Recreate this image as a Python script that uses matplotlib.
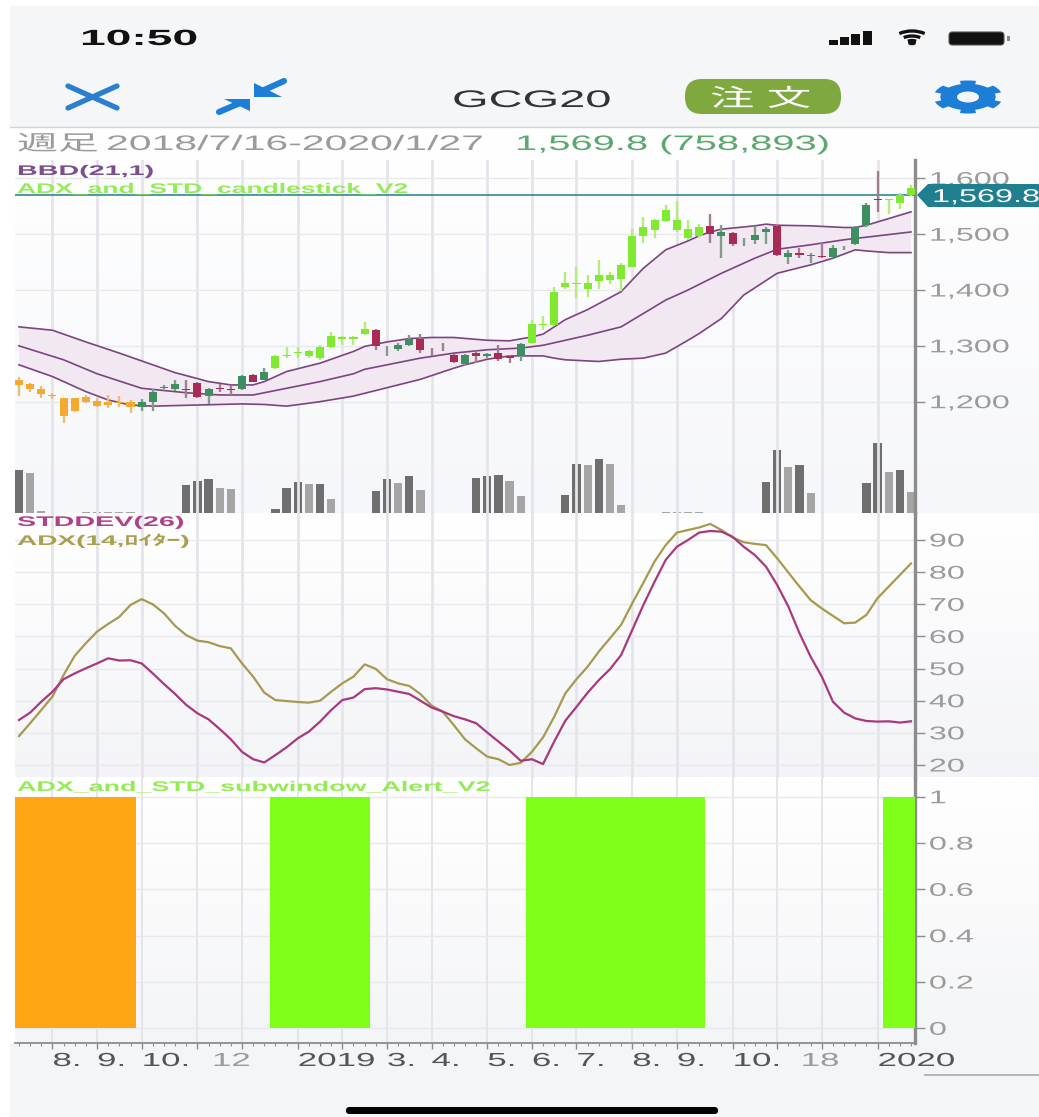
import numpy as np
import matplotlib
matplotlib.use("Agg")
from matplotlib import pyplot as plt
from matplotlib import patheffects as pe
from matplotlib.colors import to_rgb
from matplotlib.patches import Arc, Ellipse, FancyBboxPatch, Polygon, Rectangle
from matplotlib.transforms import Affine2D

W, H = 1039, 1117
plt.rcParams["font.family"] = ["Liberation Sans", "Noto Sans CJK JP"]

# weekly candles, 2018/7/16 - 2020/1/27
CANDLE_TOP = [1239, 1231, 1222, 1212, 1206, 1206, 1209, 1202, 1199, 1200, 1200, 1200, 1218, 1226, 1231, 1223, 1233,
              1223, 1225, 1223, 1246, 1248, 1254, 1282, 1284, 1289, 1290, 1298, 1318, 1315, 1315, 1330, 1328, 1297,
              1301, 1312, 1313, 1291, 1291, 1284, 1284, 1288, 1286, 1287, 1282, 1304, 1340, 1340, 1396, 1413, 1412,
              1412, 1427, 1427, 1445, 1497, 1512, 1525, 1543, 1525, 1509, 1512, 1515, 1504, 1503, 1488, 1499, 1510,
              1515, 1467, 1467, 1463, 1461, 1475, 1476, 1512, 1552, 1563, 1563, 1570, 1582]
CANDLE_BOTTOM = [1230, 1222, 1214, 1210, 1175, 1184, 1199, 1192, 1194, 1197, 1190, 1190, 1200, 1224, 1223, 1221, 1208,
                 1210, 1223, 1221, 1222, 1236, 1239, 1260, 1282, 1287, 1282, 1279, 1298, 1313, 1313, 1321, 1300, 1296,
                 1294, 1301, 1293, 1290, 1290, 1271, 1267, 1281, 1282, 1276, 1279, 1281, 1306, 1337, 1337, 1406, 1410,
                 1401, 1417, 1418, 1419, 1441, 1496, 1507, 1524, 1507, 1493, 1497, 1500, 1496, 1482, 1487, 1490, 1504,
                 1463, 1460, 1463, 1461, 1460, 1460, 1475, 1482, 1516, 1561, 1561, 1556, 1570]
CANDLE_HIGH = [1245, 1233, 1228, 1216, 1206, 1206, 1212, 1206, 1212, 1210, 1203, 1204, 1222, 1229, 1238, 1238, 1236,
               1224, 1231, 1228, 1248, 1250, 1260, 1284, 1298, 1298, 1293, 1301, 1324, 1318, 1317, 1343, 1330, 1299,
               1306, 1319, 1322, 1296, 1306, 1285, 1285, 1290, 1288, 1301, 1284, 1306, 1346, 1354, 1405, 1433, 1441,
               1427, 1454, 1433, 1448, 1510, 1531, 1528, 1552, 1560, 1525, 1519, 1536, 1516, 1504, 1494, 1515, 1512,
               1516, 1472, 1475, 1466, 1484, 1481, 1479, 1515, 1555, 1614, 1563, 1573, 1588]
CANDLE_LOW = [1210, 1218, 1206, 1204, 1161, 1182, 1197, 1190, 1188, 1190, 1179, 1184, 1184, 1222, 1220, 1206, 1206,
              1196, 1218, 1212, 1221, 1235, 1238, 1258, 1279, 1279, 1279, 1275, 1297, 1301, 1301, 1319, 1293, 1281,
              1291, 1299, 1287, 1281, 1290, 1270, 1264, 1269, 1279, 1273, 1269, 1273, 1304, 1328, 1336, 1401, 1385,
              1388, 1401, 1411, 1399, 1441, 1484, 1493, 1521, 1504, 1490, 1493, 1485, 1458, 1479, 1478, 1482, 1482,
              1461, 1446, 1457, 1449, 1457, 1459, 1472, 1481, 1513, 1540, 1537, 1546, 1569]
# O orange, G green, M maroon, L lime
CANDLE_KIND = "OOOOOOOOOOOGGGGMMGMMGMGLLLLLLLLLMGGGMMMMGMGMMGLLLLLLLLLLLLLLLLMGMGGGMGMGMGGGGMLLL"
LAST_PRICE = 1569.8

UPPER_WEEK = [0, 3, 6, 9, 11, 14, 17, 19, 21, 22, 24, 27, 30, 31, 33, 35, 37, 39, 42, 44, 46, 47, 49, 51, 54, 56, 58,
              60, 61, 62, 63, 66, 67, 68, 71, 74, 75, 76, 78, 80]
UPPER_BAND = [1334, 1328, 1307, 1287, 1273, 1252, 1236, 1230, 1230, 1236, 1254, 1269, 1290, 1299, 1307, 1313, 1315,
              1315, 1310, 1309, 1316, 1321, 1347, 1365, 1397, 1439, 1472, 1488, 1497, 1504, 1509, 1515, 1518, 1516,
              1515, 1512, 1512, 1516, 1528, 1540]
MID_WEEK = [0, 4, 7, 11, 15, 18, 21, 24, 27, 30, 31, 33, 36, 39, 42, 45, 47, 51, 54, 56, 58, 60, 63, 66, 68, 71, 74,
            77, 80]
MID_BAND = [1300, 1275, 1250, 1224, 1216, 1212, 1212, 1224, 1236, 1250, 1258, 1266, 1278, 1287, 1293, 1296, 1301, 1319,
            1334, 1358, 1382, 1400, 1430, 1457, 1473, 1481, 1490, 1497, 1504]
LOWER_WEEK = [0, 3, 6, 8, 10, 12, 16, 20, 22, 24, 27, 30, 32, 36, 39, 40, 42, 44, 47, 48, 49, 52, 54, 56, 58, 60, 61,
              63, 65, 68, 71, 73, 75, 76, 78, 80]
LOWER_BAND = [1266, 1245, 1218, 1203, 1194, 1192, 1194, 1196, 1195, 1192, 1200, 1210, 1220, 1240, 1260, 1266, 1276,
              1282, 1282, 1278, 1275, 1272, 1276, 1278, 1287, 1310, 1322, 1349, 1391, 1430, 1445, 1457, 1472, 1470,
              1467, 1467]

# volume in thousands, D dark / L light bar
VOL_WEEK = [0, 1, 2, 6, 7, 8, 9, 10, 15, 16, 17, 18, 19, 23, 24, 25, 26, 27, 28, 32, 33, 34, 35, 36, 41, 42, 43, 44, 45,
            49, 50, 51, 52, 53, 54, 58, 59, 60, 61, 67, 68, 69, 70, 71, 76, 77, 78, 79, 80]
VOLUME = [1591, 1469, 61, 24, 24, 24, 24, 24, 1040, 1187, 1248, 930, 893, 159, 906, 1138, 1077, 1077, 514, 808, 1236,
          1114, 1371, 832, 1285, 1359, 1408, 1175, 624, 649, 1787, 1750, 1971, 1787, 306, 24, 37, 24, 24, 1138, 2326,
          1689, 1750, 747, 1114, 2570, 1506, 1567, 759]
VOL_SHADE = "DLLLLLLLDDDLLDDDLDLDDLDLDDDLLDDLDLLLLLLDDLDLDDLDL"

STDDEV = [34, 36.3, 39.7, 42.8, 46.7, 48.5, 50.1, 51.6, 53.2, 52.5, 52.6, 51.6, 48.5, 45.2, 42.1, 38.7, 36.1, 34.2,
          31.2, 28, 24.1, 21.8, 20.8, 23.1, 25.5, 28.3, 30.4, 33.5, 37.1, 40.2, 41, 43.6, 43.9, 43.5, 42.8, 42.1, 40,
          37.9, 36.6, 35.2, 34.2, 33, 30.1, 27.3, 24.5, 21.3, 21.8, 20.3, 27.3, 33.8, 38.1, 42.5, 46.4, 49.8, 54.2, 62,
          69.8, 77, 83.8, 87.9, 90, 92.3, 92.8, 92.6, 91, 87.9, 85.3, 81.7, 76, 69.3, 61, 53.7, 47.5, 39.7, 36.3, 34.5,
          33.7, 33.5, 33.6, 33.2, 33.6]
ADX = [29, 33, 37.1, 41.3, 48, 54, 57.9, 61.5, 63.9, 66.1, 69.8, 71.6, 70, 67.2, 63.3, 60.4, 58.7, 58.2, 57, 56.3, 51.6,
       47.5, 42.5, 40.2, 39.9, 39.6, 39.4, 40, 42.8, 45.4, 47.5, 51.3, 49.9, 46.7, 45.4, 44.6, 42.1, 38.5, 36.6, 32.4,
       28, 25.2, 22.6, 21.8, 20, 20.7, 24.1, 28.6, 35, 42.3, 46.7, 50.6, 55.3, 59.4, 63.6, 70.3, 76.7, 83.3, 88.4, 92.3,
       93.1, 93.9, 95, 93.1, 90.8, 89.3, 88.8, 88.4, 84.3, 79.9, 75.5, 71.3, 68.7, 66.4, 64.1, 64.3, 66.7, 71.9, 75.5,
       79.1, 82.7]

GRID_WEEKS = [3, 7, 11, 16, 20, 25, 29, 33, 37, 42, 46, 50, 55, 59, 64, 68, 72, 77]
DATE_WEEKS = [3, 7, 11, 17.3, 25, 33, 37, 42, 46, 50, 55, 59, 64, 70.1, 77]
DATE_LABELS = ["8.", "9.", "10.", "12", "2019", "3.", "4.", "5.", "6.", "7.", "8.", "9.", "10.", "18", "2020"]
PRICE_TICKS = [1200, 1300, 1400, 1500, 1600]
PRICE_LABELS = ["1,200", "1,300", "1,400", "1,500", "1,600"]
OSC_TICKS = [20, 30, 40, 50, 60, 70, 80, 90]
ALERT_TICKS = [0, 0.2, 0.4, 0.6, 0.8, 1]
ALERT_LABELS = ["0", "0.2", "0.4", "0.6", "0.8", "1"]

BODY = {"O": "#f5a92e", "G": "#3d8f5f", "M": "#a92a55", "L": "#80ea30"}
WICK = {"O": "#e9bd7c", "G": "#7f9c8c", "M": "#a08090", "L": "#b4ec80"}
ALERT_COLOR = {"O": "#ffa413", "L": "#7fff17"}
BLUE = "#1c7ed6"
TEAL = "#1f7f8f"
GREY = "#9b9b9b"


# the screenshot is stretched sideways, so stretch the glyphs the same way
class Wide(pe.AbstractPathEffect):
    def __init__(self, sx=1.85):
        super().__init__()
        self.sx = sx

    def draw_path(self, renderer, gc, tpath, affine, rgbFace=None):
        x0 = affine.get_matrix()[0, 2]
        wide = affine + Affine2D().translate(-x0, 0).scale(self.sx, 1).translate(x0, 0)
        renderer.draw_path(gc, tpath, wide, rgbFace)


fig = plt.figure(figsize=(W / 100, H / 100), dpi=100, facecolor="white")

# backdrop
bg = fig.add_axes([0, 0, 1, 1], zorder=0)
bg.set_xlim(0, W)
bg.set_ylim(H, 0)
bg.axis("off")
bg.add_patch(Rectangle((10, 6), W, 121, color="#f5f6f8", lw=0))
bg.add_patch(Rectangle((10, 1043), W, H, color="#f4f5f7", lw=0))
bg.plot([10, W], [127, 127], color="#d2d2d4", lw=1)
for top, bottom, low in [(128, 513, "#f6f7fa"), (513, 777, "#f3f4f7"), (778, 1043, "#f4f5f7")]:
    grad = np.linspace(to_rgb("white"), to_rgb(low), 64)[:, None, :]
    bg.imshow(grad, extent=(15, W, bottom, top), aspect="auto", interpolation="bilinear")
bg.set_xlim(0, W)
bg.set_ylim(H, 0)


def panel(top, bottom, ylim, z=2):
    ax = fig.add_axes([15 / W, 1 - bottom / H, 900 / W, (bottom - top) / H], zorder=z)
    ax.set_facecolor("none")
    ax.set_xlim(-0.359, 80.36)
    ax.set_ylim(*ylim)
    for side in ["top", "left", "bottom"]:
        ax.spines[side].set_visible(False)
    ax.spines["right"].set_color("#8c8c8c")
    ax.spines["right"].set_linewidth(2.4)
    ax.yaxis.tick_right()
    ax.tick_params(axis="y", length=7, width=1, color="#8c8c8c", pad=3, labelcolor=GREY)
    ax.set_xticks(GRID_WEEKS)
    ax.tick_params(axis="x", length=0, labelbottom=False)
    ax.grid(axis="y", color="#e9e9ed", lw=1)
    ax.grid(axis="x", color="#e4e4ea", lw=2)
    ax.set_axisbelow(True)
    return ax


def wide_ticks(ax, ticks, labels, sx=1.75):
    ax.set_yticks(ticks)
    ax.set_yticklabels(labels, fontsize=13.3)
    for t in ax.get_yticklabels():
        t.set_path_effects([Wide(sx)])
        t.set_ha("left")


weeks = np.arange(len(CANDLE_KIND))

# price panel
ax1 = panel(160, 513, (1000.6, 1632.9))
wide_ticks(ax1, PRICE_TICKS, PRICE_LABELS)
ax1.fill(UPPER_WEEK + LOWER_WEEK[::-1], UPPER_BAND + LOWER_BAND[::-1], color="#f1e8f1", lw=0, zorder=1)
for xs, ys in [(UPPER_WEEK, UPPER_BAND), (MID_WEEK, MID_BAND), (LOWER_WEEK, LOWER_BAND)]:
    ax1.plot(xs, ys, color="#7c4480", lw=1.2, zorder=2)
ax1.axhline(LAST_PRICE, color=TEAL, lw=1.1, zorder=3)
ax1.vlines(weeks, CANDLE_LOW, CANDLE_HIGH, colors=[WICK[k] for k in CANDLE_KIND], lw=1.7, zorder=4)
ax1.bar(weeks, np.array(CANDLE_TOP) - np.array(CANDLE_BOTTOM), bottom=CANDLE_BOTTOM, width=0.72,
        color=[BODY[k] for k in CANDLE_KIND], lw=0, zorder=5)

# volume sits at the foot of the price panel
vol = fig.add_axes(ax1.get_position(), zorder=1.5)
vol.set_facecolor("none")
vol.axis("off")
vol.set_xlim(ax1.get_xlim())
vol.set_ylim(0, 12962)
vol.bar(VOL_WEEK, VOLUME, width=0.74, color=["#6f6f6f" if s == "D" else "#a5a5a5" for s in VOL_SHADE], lw=0)

# oscillators
ax2 = panel(513, 778, (15.96, 98.4))
wide_ticks(ax2, OSC_TICKS, [str(v) for v in OSC_TICKS])
ax2.plot(weeks, ADX, color="#a79a50", lw=1.6)
ax2.plot(weeks, STDDEV, color="#a8387f", lw=1.6)

# alert panel
ax3 = panel(778, 1043, (-0.0635, 1.081))
wide_ticks(ax3, ALERT_TICKS, ALERT_LABELS)
ax3.grid(axis="x", lw=1.4)
alert = [1 if k in ALERT_COLOR else 0 for k in CANDLE_KIND]
ax3.bar(weeks, alert, width=1.02, color=[ALERT_COLOR.get(k, "none") for k in CANDLE_KIND], lw=0, zorder=3)
ax3.spines["bottom"].set_visible(True)
ax3.spines["bottom"].set_color("#8c8c8c")
ax3.spines["bottom"].set_linewidth(1.3)
ax3.set_xticks(weeks, minor=True)
ax3.tick_params(axis="x", which="major", length=4, width=1, color="#8c8c8c")
ax3.tick_params(axis="x", which="minor", length=1.8, width=0.8, color="#8c8c8c")
for wk, txt in zip(DATE_WEEKS, DATE_LABELS):
    ax3.text(wk, -23 / 265, txt, transform=ax3.get_xaxis_transform(), fontsize=13.6, va="baseline", ha="left",
             color="#9b9b9b" if txt in ("12", "18") else "#555555", path_effects=[Wide(1.85)], clip_on=False)

# phone chrome and panel titles, in screen pixels
top = fig.add_axes([0, 0, 1, 1], zorder=5)
top.set_facecolor("none")
top.axis("off")
top.set_xlim(0, W)
top.set_ylim(H, 0)


def label(x, y, s, px, color, weight="normal", sx=1.9):
    top.text(x, y, s, fontsize=px * 0.72, color=color, fontweight=weight, ha="left", va="baseline",
             path_effects=[Wide(sx)])


label(80, 45, "10:50", 22, "#111111", "bold", 2.1)
label(452, 107, "GCG20", 24, "#333333", sx=1.96)
top.add_patch(FancyBboxPatch((685, 79), 156, 35, boxstyle="round,pad=0,rounding_size=17", color="#7fa83f", lw=0))
label(710, 106, "注 文", 24, "white", sx=1.85)
label(17, 150, "週足", 21, GREY, sx=1.95)
label(106, 150, "2018/7/16-2020/1/27", 21, GREY, sx=1.95)
label(515, 150, "1,569.8 (758,893)", 21, "#5ba86f", sx=1.9)

label(17, 175, "BBD(21,1)", 14, "#7a4f8c", "bold", 2.05)
label(17, 193, "ADX_and_STD_candlestick_V2", 14, "#93ec55", "bold", 1.89)
label(17, 526, "STDDEV(26)", 14, "#b0408a", "bold", 2.05)
label(17, 545, "ADX(14,ﾛｲﾀｰ)", 14, "#a8a04f", "bold", 2.0)
label(17, 791, "ADX_and_STD_subwindow_Alert_V2", 14, "#93ec55", "bold", 1.92)

# price tag
top.add_patch(Polygon([(917, 195), (928, 184), (W, 184), (W, 207), (928, 207)], color=TEAL, lw=0))
label(932, 202, "1,569.8", 18.5, "white", sx=1.75)

# close, compress
top.plot([68, 117], [86, 108], color="#2b7fcf", lw=3.8, solid_capstyle="round")
top.plot([68, 117], [108, 86], color="#2b7fcf", lw=3.8, solid_capstyle="round")
top.plot([262, 284], [91, 81], color=BLUE, lw=4.4, solid_capstyle="round")
top.add_patch(Polygon([(254, 83), (254, 97), (282, 97)], color=BLUE, lw=0))
top.plot([219, 240], [112, 103], color=BLUE, lw=4.4, solid_capstyle="round")
top.add_patch(Polygon([(224, 99), (250, 99), (250, 111)], color=BLUE, lw=0))

# gear
t = np.linspace(0, 2 * np.pi, 241)
r = np.where(np.cos(6 * (t - np.pi / 2)) > 0.1, 1.0, 0.8)
top.add_patch(Polygon(np.c_[968 + 34.5 * r * np.cos(t), 97 + 16.5 * r * np.sin(t)], color=BLUE, lw=0))
top.add_patch(Ellipse((968, 97), 22, 11, color="#f5f6f8", lw=0))

# status bar
for x, h in zip([829, 840, 851, 863], [5, 8, 11, 14]):
    top.add_patch(Rectangle((x, 45 - h), 9, h, color="#111111", lw=0))
for w, h in [(44, 28), (29, 18), (14, 9)]:
    top.add_patch(Arc((912, 45), w, h, theta1=222, theta2=318, color="#111111", lw=2.4))
top.add_patch(Ellipse((912, 43), 8, 4.5, color="#111111", lw=0))
top.add_patch(FancyBboxPatch((949, 32), 55, 13, boxstyle="round,pad=0,rounding_size=3.5", fc="#111111", ec="#555555",
                             lw=0.8))
top.add_patch(Rectangle((1007, 36), 3, 5, color="#888888", lw=0))

# home bar and the stray rule next to it
top.add_patch(FancyBboxPatch((346, 1107), 372, 7, boxstyle="round,pad=0,rounding_size=3.5", color="black", lw=0))
top.plot([925, W], [1075, 1075], color="#b5b5b5", lw=1.4)

fig.savefig("out.png", dpi=100)
